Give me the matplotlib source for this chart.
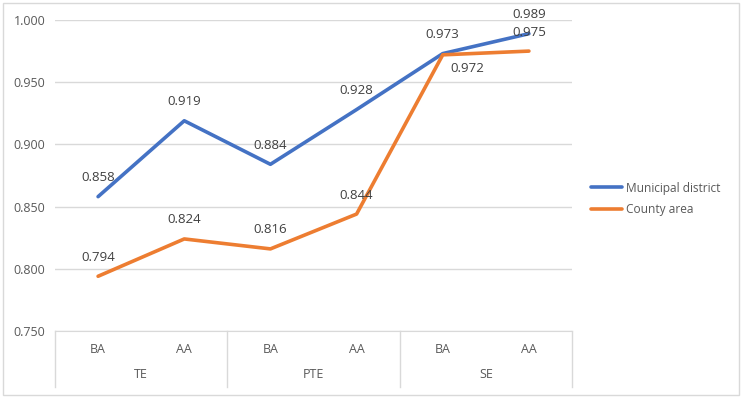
import matplotlib
matplotlib.use("Agg")
import matplotlib.pyplot as plt
from matplotlib.patches import Rectangle

plt.rcParams["font.family"] = ["Open Sans", "DejaVu Sans"]

sub_labels = ["BA", "AA", "BA", "AA", "BA", "AA"]
group_labels = ["TE", "PTE", "SE"]
municipal = [0.858, 0.919, 0.884, 0.928, 0.973, 0.989]
county = [0.794, 0.824, 0.816, 0.844, 0.972, 0.975]
yticks = [0.750, 0.800, 0.850, 0.900, 0.950, 1.000]

BLUE = "#4472C4"
ORANGE = "#ED7D31"
GRID = "#D9D9D9"
TXT = "#595959"
LBL = "#404040"

fig = plt.figure(figsize=(7.42, 3.98), dpi=100)
W, H = 742, 398
ax = fig.add_axes([55 / W, 1 - 331 / H, (572 - 55) / W, (331 - 20) / H])

# outer chart border
fig.patches.append(Rectangle((3 / W, 3 / H), 736 / W, 392 / H, transform=fig.transFigure,
                             fill=False, edgecolor=GRID, linewidth=1))

x = list(range(len(sub_labels)))
ax.plot(x, municipal, color=BLUE, linewidth=2.6, label="Municipal district", solid_capstyle="round")
ax.plot(x, county, color=ORANGE, linewidth=2.6, label="County area", solid_capstyle="round")

for xi, v in zip(x, municipal):
    ax.annotate(f"{v:.3f}", (xi, v), xytext=(0, 9), textcoords="offset points",
                ha="center", va="bottom", fontsize=9.5, color=LBL)
for xi, v in zip(x, county):
    if xi == 4:
        ax.annotate(f"{v:.3f}", (xi, v), xytext=(18, -10), textcoords="offset points",
                    ha="center", va="center", fontsize=9.5, color=LBL)
    else:
        ax.annotate(f"{v:.3f}", (xi, v), xytext=(0, 9), textcoords="offset points",
                    ha="center", va="bottom", fontsize=9.5, color=LBL)

ax.set_xlim(-0.5, len(x) - 0.5)
ax.set_ylim(0.75, 1.0)
ax.set_yticks(yticks)
ax.set_yticklabels([f"{t:.3f}" for t in yticks], fontsize=9, color=TXT)
ax.tick_params(axis="y", length=0, pad=7)
ax.set_xticks([])
ax.grid(axis="y", color=GRID, linewidth=1)
ax.set_axisbelow(True)
for s in ["left", "right", "top"]:
    ax.spines[s].set_visible(False)
ax.spines["bottom"].set_color(GRID)

# two-level category axis
trans = ax.get_xaxis_transform()
for xi, lab in zip(x, sub_labels):
    ax.text(xi, -0.058, lab, transform=trans, ha="center", va="center", fontsize=9, color=TXT)
for gi, g in enumerate(group_labels):
    ax.text(2 * gi + 0.5, -0.141, g, transform=trans, ha="center", va="center", fontsize=9, color=TXT)
for sep in [-0.5, 1.5, 3.5, 5.5]:
    ax.plot([sep, sep], [0, -0.18], transform=trans, color=GRID, linewidth=1, clip_on=False)

ax.legend(loc="center left", bbox_to_anchor=(591 / W, 1 - 199 / H), bbox_transform=fig.transFigure,
          frameon=False, fontsize=8.6, handlelength=2.6, handletextpad=0.3, labelspacing=0.75,
          labelcolor=TXT, borderaxespad=0, borderpad=0)

fig.savefig("out.png", dpi=100)
